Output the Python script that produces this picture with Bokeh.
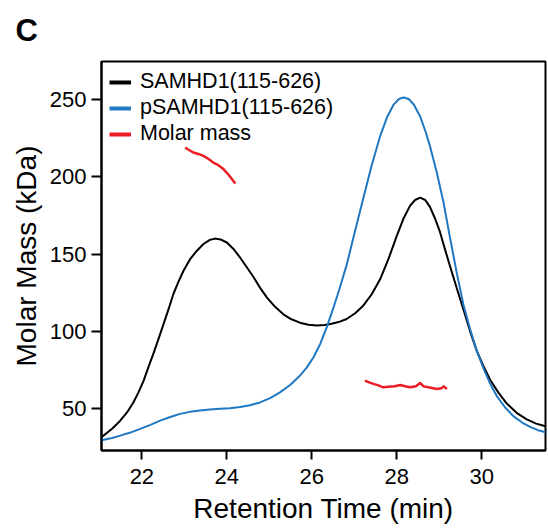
from bokeh.plotting import figure
from bokeh.models import Range1d, FixedTicker, Legend, LegendItem
from bokeh.embed import file_html
from bokeh.resources import INLINE

# SAMHD1(115-626) trace
black_x = [21.05, 21.3, 21.49, 21.65, 21.8, 21.92, 22.04, 22.15, 22.27, 22.39, 22.51, 22.63,
           22.74, 22.86, 22.98, 23.13, 23.29, 23.45, 23.6, 23.72, 23.85, 24.0, 24.15, 24.31,
           24.47, 24.63, 24.78, 24.94, 25.13, 25.33, 25.52, 25.72, 25.92, 26.12, 26.3, 26.44,
           26.63, 26.82, 27.02, 27.21, 27.41, 27.61, 27.8, 28.0, 28.15, 28.31, 28.43, 28.55,
           28.67, 28.78, 28.9, 29.02, 29.13, 29.25, 29.41, 29.57, 29.72, 29.88, 30.04, 30.2,
           30.4, 30.59, 30.82, 31.06, 31.28, 31.5]
black_y = [31.5, 37.0, 42.2, 47.5, 54.0, 60.5, 68.0, 76.5, 85.4, 95.0, 104.7, 114.5,
           124.0, 132.0, 139.2, 146.5, 152.0, 156.5, 159.2, 160.0, 159.5, 157.5, 153.5, 147.8,
           141.5, 135.0, 128.3, 122.0, 116.0, 111.0, 107.8, 105.6, 104.3, 103.8, 104.1, 104.7,
           106.0, 108.0, 111.7, 116.6, 124.0, 133.8, 146.5, 161.8, 172.5, 181.2, 185.0, 186.5,
           185.0, 180.5, 173.0, 164.0, 153.5, 142.4, 128.0, 114.0, 100.5, 87.5, 77.5, 68.5,
           60.0, 53.3, 47.3, 43.0, 40.3, 38.6]

# pSAMHD1(115-626) trace
blue_x = [21.05, 21.3, 21.49, 21.73, 21.96, 22.2, 22.43, 22.67, 22.9, 23.13, 23.37, 23.6,
          23.84, 24.07, 24.31, 24.55, 24.78, 25.02, 25.25, 25.49, 25.72, 25.88, 26.04, 26.2,
          26.35, 26.5, 26.65, 26.82, 27.0, 27.21, 27.41, 27.61, 27.77, 27.92, 28.05, 28.16,
          28.28, 28.4, 28.55, 28.68, 28.78, 28.94, 29.1, 29.25, 29.41, 29.57, 29.73, 29.88,
          30.04, 30.2, 30.35, 30.55, 30.75, 30.95, 31.14, 31.35, 31.5]
blue_y = [29.5, 31.0, 32.5, 34.5, 36.9, 39.5, 42.2, 44.6, 46.6, 47.9, 48.8, 49.4,
          49.9, 50.3, 51.0, 52.2, 54.0, 56.8, 60.5, 65.3, 71.3, 76.5, 83.2, 92.0,
          102.6, 114.5, 127.4, 143.0, 163.0, 186.0, 207.5, 226.5, 238.5, 246.5, 250.3, 251.3,
          250.3, 246.8, 239.0, 229.0, 220.0, 203.0, 183.4, 161.0, 138.0, 117.0, 101.0, 87.5,
          76.0, 66.0, 58.3, 50.7, 45.0, 41.0, 38.2, 35.8, 34.7]

# Molar mass (two segments)
red1_x = [23.02, 23.1, 23.21, 23.33, 23.45, 23.57, 23.68, 23.8, 23.92, 24.05, 24.2]
red1_y = [218.9, 217.5, 215.7, 214.8, 213.5, 211.5, 209.2, 207.5, 205.0, 201.0, 195.6]
red2_x = [27.25, 27.35, 27.45, 27.55, 27.68, 27.8, 27.95, 28.08, 28.2, 28.31, 28.45, 28.55,
          28.63, 28.8, 28.94, 29.05, 29.1, 29.18]
red2_y = [68.1, 67.0, 66.0, 65.2, 63.8, 64.2, 64.5, 65.3, 64.5, 63.8, 64.5, 66.6,
          64.4, 63.5, 62.7, 63.2, 64.4, 62.7]

x_ticks = [22, 24, 26, 28, 30]
y_ticks = [50, 100, 150, 200, 250]
labels = ["SAMHD1(115-626)", "pSAMHD1(115-626)", "Molar mass"]
panel_letter = "C"

BLACK = "#000000"
BLUE = "#1f78c1"
RED = "#ec1c24"
FONT = "Liberation Sans"

p = figure(width=548, height=529, output_backend="svg", toolbar_location=None,
           x_range=Range1d(21.05, 31.5), y_range=Range1d(22.9, 274.6),
           min_border_left=101, min_border_right=3, min_border_top=60, min_border_bottom=79)
p.xgrid.visible = False
p.ygrid.visible = False
p.outline_line_color = "black"
p.outline_line_width = 2
p.background_fill_color = "white"
p.border_fill_color = "white"

p.title.text = panel_letter
p.title.text_font = FONT
p.title.text_font_size = "31px"
p.title.text_font_style = "bold"
p.title.text_color = "black"
p.title.align = "left"
p.title.vertical_align = "top"
p.title.offset = -86
p.title.standoff = 24

p.line(black_x, black_y, line_color=BLACK, line_width=2)
p.line(blue_x, blue_y, line_color=BLUE, line_width=2)
p.line(red1_x, red1_y, line_color=RED, line_width=2.5)
p.line(red2_x, red2_y, line_color=RED, line_width=2.5)

# legend proxies (thicker keys); single-point lines draw nothing on the plot
d1 = p.line(black_x[:1], black_y[:1], line_color=BLACK, line_width=4)
d2 = p.line(blue_x[:1], blue_y[:1], line_color=BLUE, line_width=4)
d3 = p.line(red1_x[:1], red1_y[:1], line_color=RED, line_width=4)
leg = Legend(items=[LegendItem(label=labels[0], renderers=[d1]),
                    LegendItem(label=labels[1], renderers=[d2]),
                    LegendItem(label=labels[2], renderers=[d3])],
             location="top_left", margin=8, padding=0, spacing=1,
             glyph_width=22, label_standoff=9,
             label_text_font=FONT, label_text_font_size="21.5px", label_text_color="black",
             border_line_alpha=0, background_fill_alpha=0)
p.add_layout(leg, "center")

for ax in (p.xaxis[0], p.yaxis[0]):
    ax.axis_line_width = 2
    ax.major_tick_line_width = 2
    ax.major_tick_in = 0
    ax.major_tick_out = 10
    ax.minor_tick_line_color = None
    ax.major_label_text_font = FONT
    ax.major_label_text_font_size = "22px"
    ax.major_label_text_color = "black"
    ax.axis_label_text_font = FONT
    ax.axis_label_text_font_size = "28px"
    ax.axis_label_text_font_style = "normal"
    ax.axis_label_text_color = "black"

p.xaxis.ticker = FixedTicker(ticks=x_ticks)
p.yaxis.ticker = FixedTicker(ticks=y_ticks)
p.xaxis.axis_label = "Retention Time (min)"
p.yaxis.axis_label = "Molar Mass (kDa)"
p.xaxis.major_tick_out = 9
p.xaxis.major_label_standoff = 9
p.xaxis.axis_label_standoff = 6
p.yaxis.major_label_standoff = 5
p.yaxis.axis_label_standoff = 5

open("out.html", "w").write(file_html(p, INLINE))
